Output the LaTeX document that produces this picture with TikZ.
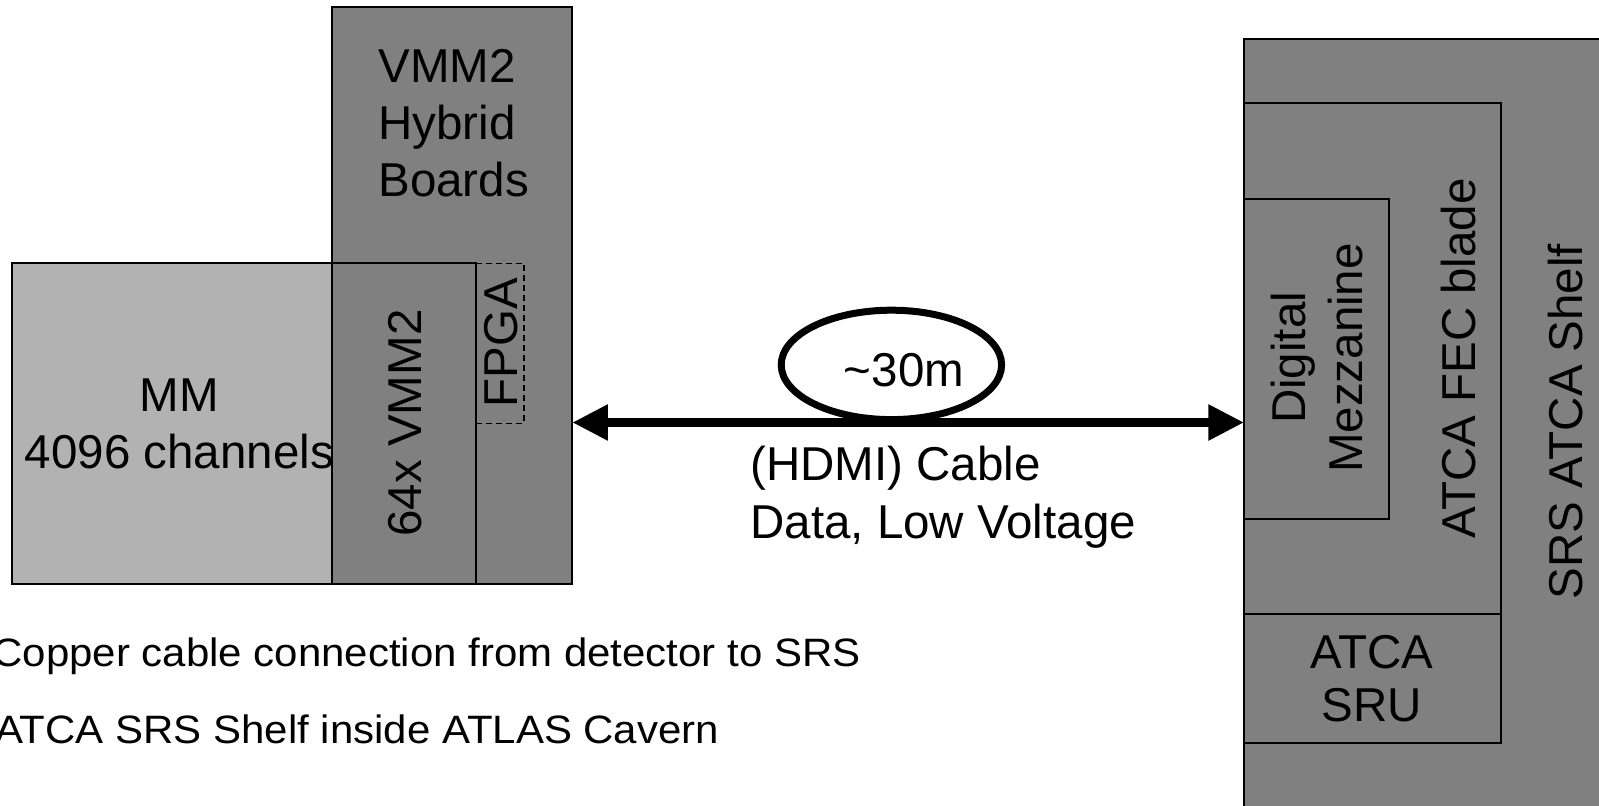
\documentclass[tikz,border=0pt]{standalone}
\usepackage{fontspec}
\setmainfont{Liberation Sans}
\usetikzlibrary{arrows.meta}
\definecolor{boardgray}{RGB}{128,128,128}
\definecolor{mmgray}{RGB}{178,178,178}

\begin{document}
\begin{tikzpicture}[x=0.5pt,y=-0.5pt,
  box/.style={draw=black,line width=1pt},
  lbl/.style={inner sep=0pt,font=\fontsize{23.75}{28.4}\selectfont},
  vlbl/.style={lbl,rotate=90},
  note/.style={inner sep=0pt,anchor=base east,xscale=1.06,font=\fontsize{19.8}{24}\selectfont},
  coil/.style={line width=3.5pt},
  cable/.style={line width=4.2pt,arrows={Triangle[length=17.8pt,width=17pt]-Triangle[length=17.8pt,width=17pt]}}]
  \useasboundingbox (0,0) rectangle (1599,806);
  % detector side: hybrid, chamber, chips
  \filldraw[box,fill=boardgray] (332,7) rectangle (572,584);
  \filldraw[box,fill=mmgray] (11.5,263.3) rectangle (348,584);
  \filldraw[box,fill=boardgray] (332,263.3) rectangle (475.6,584);
  \draw[line width=0.6pt,dash pattern=on 3pt off 2pt] (476.4,263.3) rectangle (524,423.6);
  \node[lbl,anchor=west,align=left] (hybrid) at (378,123.4) {VMM2\\Hybrid\\Boards};
  \node[lbl,align=center] (mm) at (179.5,423.9) {MM\\4096 channels};
  \node[vlbl] (vmm) at (404.7,423) {64x VMM2};
  \node[vlbl] (fpga) at (501.3,342.5) {FPGA};
  % SRS side
  \filldraw[box,fill=boardgray] (1244,38.6) rectangle (1620,830);
  \draw[box] (1244,102.8) rectangle (1500.7,614.4);
  \draw[box] (1244,199) rectangle (1389,519.3);
  \draw[box] (1244,614.4) rectangle (1500.7,743);
  \node[vlbl,align=center] (mezz) at (1316.7,358) {Digital\\Mezzanine};
  \node[vlbl] (fec) at (1458.3,358.6) {ATCA FEC blade};
  \node[vlbl] (shelf) at (1565,421.6) {SRS ATCA Shelf};
  \node[lbl,align=center,font=\fontsize{23.75}{26.8}\selectfont] (sru) at (1371.7,678.5) {ATCA\\SRU};
  % cable with its loop
  \coordinate (hybE) at (572.3,422.5);
  \coordinate (shelfW) at (1244,422.5);
  \draw[coil] (891.4,364.9) ellipse [x radius=110.2,y radius=54.7];
  \draw[cable] (hybE) -- (shelfW);
  \node[lbl,anchor=base] (len) at (904,386.7) {\textasciitilde30m};
  \node[lbl,anchor=base west] (hdmi) at (750,480.7) {(HDMI) Cable};
  \node[lbl,anchor=base west] (volt) at (750,538.3) {Data, Low Voltage};
  \node[note] (copper) at (861,666.7) {Copper cable connection from detector to SRS};
  \node[note] (cavern) at (719.5,743.3) {ATCA SRS Shelf inside ATLAS Cavern};
\end{tikzpicture}
\end{document}
